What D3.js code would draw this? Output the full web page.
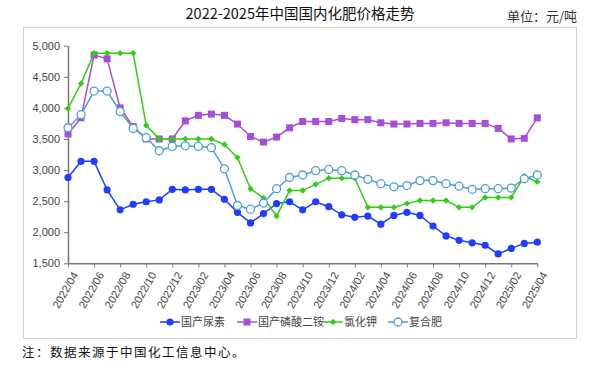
<!DOCTYPE html>
<html><head><meta charset="utf-8">
<script src="https://cdn.jsdelivr.net/npm/d3@7"></script>
<style>
html,body{margin:0;padding:0;background:#fff;}
svg{display:block;}
</style></head>
<body>
<svg id="c" width="603" height="365"></svg>
<script>
const months = ["2022/04","2022/05","2022/06","2022/07","2022/08","2022/09","2022/10","2022/11","2022/12",
"2023/01","2023/02","2023/03","2023/04","2023/05","2023/06","2023/07","2023/08","2023/09","2023/10","2023/11","2023/12",
"2024/01","2024/02","2024/03","2024/04","2024/05","2024/06","2024/07","2024/08","2024/09","2024/10","2024/11","2024/12",
"2025/01","2025/02","2025/03","2025/04"];
const urea = [2880,3140,3140,2680,2360,2450,2490,2520,2690,2680,2690,2690,2530,2320,2150,2300,2460,2490,2360,2490,2410,2280,2240,2260,2130,2270,2320,2270,2100,1940,1870,1830,1790,1650,1740,1820,1840];
const dap = [3580,3840,4850,4790,4000,3700,3500,3500,3500,3790,3880,3900,3880,3740,3540,3450,3530,3680,3780,3780,3780,3830,3810,3810,3760,3740,3740,3750,3750,3760,3750,3750,3750,3670,3500,3510,3840];
const kcl = [3990,4390,4880,4880,4880,4880,3720,3500,3500,3500,3500,3500,3410,3200,2700,2550,2260,2670,2670,2770,2870,2870,2870,2400,2400,2400,2460,2510,2510,2510,2400,2400,2560,2560,2560,2900,2810];
const compound = [3680,3890,4270,4270,3940,3670,3520,3310,3380,3390,3380,3360,3020,2430,2370,2470,2700,2880,2920,2990,3010,2990,2920,2850,2780,2730,2750,2830,2830,2780,2740,2690,2700,2700,2710,2860,2920];
const yTicks = [1500,2000,2500,3000,3500,4000,4500,5000];
const xTickLabels = months.filter((m,i)=>i%2===0);
const seriesNames = ["国产尿素","国产磷酸二铵","氯化钾","复合肥"];
const titleText = "2022-2025年中国国内化肥价格走势";
const unitText = "单位：元/吨";
const noteText = "注：数据来源于中国化工信息中心。";

const series = [
  {name:seriesNames[0], values:urea, color:"#1f3dff", marker:"circle"},
  {name:seriesNames[1], values:dap, color:"#a64fd6", marker:"square"},
  {name:seriesNames[2], values:kcl, color:"#33cc14", marker:"diamond"},
  {name:seriesNames[3], values:compound, color:"#4b9fd9", marker:"open"}
];

const svg = d3.select("#c");
const cjk = "'Noto Sans CJK SC', 'Noto Sans', sans-serif";
const lat = "'Liberation Sans', 'DejaVu Sans', sans-serif";

svg.append("rect").attr("x",23.5).attr("y",27.5).attr("width",553).attr("height",311)
  .attr("fill","#fff").attr("stroke","#d4d4d4").attr("stroke-width",1);

svg.append("text").attr("x",300).attr("y",19).attr("text-anchor","middle")
  .attr("font-family",cjk).attr("font-size",14.5).attr("fill","#111").text(titleText);
svg.append("text").attr("x",577).attr("y",21).attr("text-anchor","end")
  .attr("font-family",cjk).attr("font-size",13).attr("fill","#333").text(unitText);
svg.append("text").attr("x",22).attr("y",357)
  .attr("font-family",cjk).attr("font-size",12.5).attr("letter-spacing",1.5).attr("fill","#111").text(noteText);

const x = d3.scalePoint().domain(months).range([68,537.3]);
const y = d3.scaleLinear().domain([1500,5000]).range([263.3,45.7]);

const ya = svg.append("g").attr("transform","translate(68,0)")
  .call(d3.axisLeft(y).tickValues(yTicks).tickFormat(d3.format(",")).tickSize(4).tickSizeOuter(0));
ya.select(".domain").attr("stroke","#777").attr("stroke-width",1.5);
ya.selectAll(".tick line").attr("stroke","#777");
ya.selectAll("text").attr("font-family",lat).attr("font-size",11).attr("fill","#444").attr("dx",-1);

const xa = svg.append("g").attr("transform","translate(0,263.3)")
  .call(d3.axisBottom(x).tickValues(xTickLabels).tickSize(4).tickSizeOuter(0));
xa.select(".domain").attr("stroke","#777").attr("stroke-width",1.5);
xa.selectAll(".tick line").attr("stroke","#777");
xa.selectAll("text").attr("font-family",lat).attr("font-size",11).attr("fill","#444")
  .attr("text-anchor","end").attr("dy",0).attr("dx",0)
  .attr("transform","translate(4,8) rotate(-60)");

const line = d3.line().x((d,i)=>x(months[i])).y(d=>y(d));

function drawMarker(g, type, color, cx, cy){
  if(type==="circle") g.append("circle").attr("cx",cx).attr("cy",cy).attr("r",3.6).attr("fill",color);
  else if(type==="square") g.append("rect").attr("x",cx-3.5).attr("y",cy-3.5).attr("width",7).attr("height",7).attr("fill",color);
  else if(type==="diamond") g.append("path").attr("d",`M${cx},${cy-3.2}L${cx+3.2},${cy}L${cx},${cy+3.2}L${cx-3.2},${cy}Z`).attr("fill",color);
  else g.append("circle").attr("cx",cx).attr("cy",cy).attr("r",4).attr("fill","#fff").attr("stroke",color).attr("stroke-width",1.3);
}

series.forEach(s=>{
  const g = svg.append("g");
  g.append("path").attr("d",line(s.values)).attr("fill","none").attr("stroke",s.color).attr("stroke-width",1.5);
  s.values.forEach((v,i)=>drawMarker(g,s.marker,s.color,x(months[i]),y(v)));
});

// legend
const legX = [160,237,323,388];
const lg = svg.append("g");
series.forEach((s,k)=>{
  const lx = legX[k], ly = 322;
  lg.append("line").attr("x1",lx).attr("x2",lx+20).attr("y1",ly).attr("y2",ly).attr("stroke",s.color).attr("stroke-width",1.5);
  drawMarker(lg,s.marker,s.color,lx+10,ly);
  lg.append("text").attr("x",lx+21).attr("y",ly+4).attr("font-family",cjk).attr("font-size",11)
    .attr("fill","#444").text(s.name);
});
</script>
</body></html>
